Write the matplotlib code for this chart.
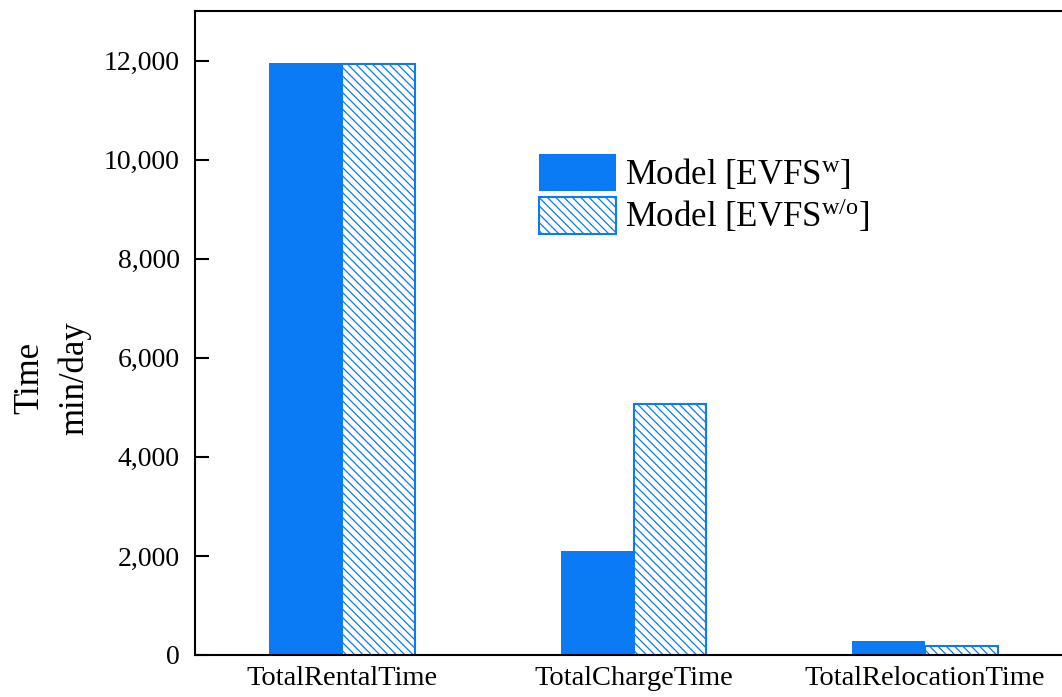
import matplotlib
matplotlib.use("Agg")
import matplotlib.pyplot as plt
from matplotlib.ticker import FuncFormatter, MultipleLocator
import numpy as np

categories = ["TotalRentalTime", "TotalChargeTime", "TotalRelocationTime"]
with_fs = [11950, 2100, 280]
without_fs = [11940, 5070, 190]
series_labels = [r"Model [EVFS$^{\mathrm{w}}$]", r"Model [EVFS$^{\mathrm{w/o}}$]"]

plt.rcParams["font.family"] = ["Liberation Serif", "DejaVu Serif"]
plt.rcParams["mathtext.fontset"] = "custom"
plt.rcParams["mathtext.rm"] = "Liberation Serif"
plt.rcParams["mathtext.it"] = "Liberation Serif:italic"
plt.rcParams["hatch.linewidth"] = 0.9

blue = "#0A7BF5"

fig = plt.figure(figsize=(10.62, 6.97), dpi=100)
ax = fig.add_axes([195/1062, 42/697, 877/1062, 644/697])

x = np.arange(len(categories))
w = 0.25
ax.bar(x - w/2, with_fs, w, color=blue, edgecolor=blue, linewidth=0, label=series_labels[0])
ax.bar(x + w/2, without_fs, w, color="white", edgecolor=blue, hatch="\\\\\\\\", linewidth=1.5,
       label=series_labels[1])

ax.set_xlim(-0.504, 2.504)
ax.set_ylim(0, 13000)
ax.yaxis.set_major_locator(MultipleLocator(2000))
ax.yaxis.set_major_formatter(FuncFormatter(lambda v, p: f"{int(v):,}"))
ax.set_xticks(x)
ax.set_xticklabels(categories, fontsize=20.5)
ax.tick_params(axis="x", length=0, pad=8)
ax.tick_params(axis="y", direction="in", length=10, width=1.5, labelsize=20, pad=11)
for s in ax.spines.values():
    s.set_linewidth(1.5)

fig.text(52/1062, 1 - 378/697, "Time\nmin/day", rotation=90, ha="center", va="center",
         fontsize=25, linespacing=1.45)

handles, labels = ax.get_legend_handles_labels()
leg = fig.legend(handles, labels, loc="upper left", bbox_to_anchor=(539/1062, 1 - 154/697),
                 frameon=False, fontsize=25, handlelength=2.22, handleheight=1.25,
                 handletextpad=0.25, labelspacing=0.15, borderpad=0, borderaxespad=0)

fig.savefig("out.png", dpi=100)
